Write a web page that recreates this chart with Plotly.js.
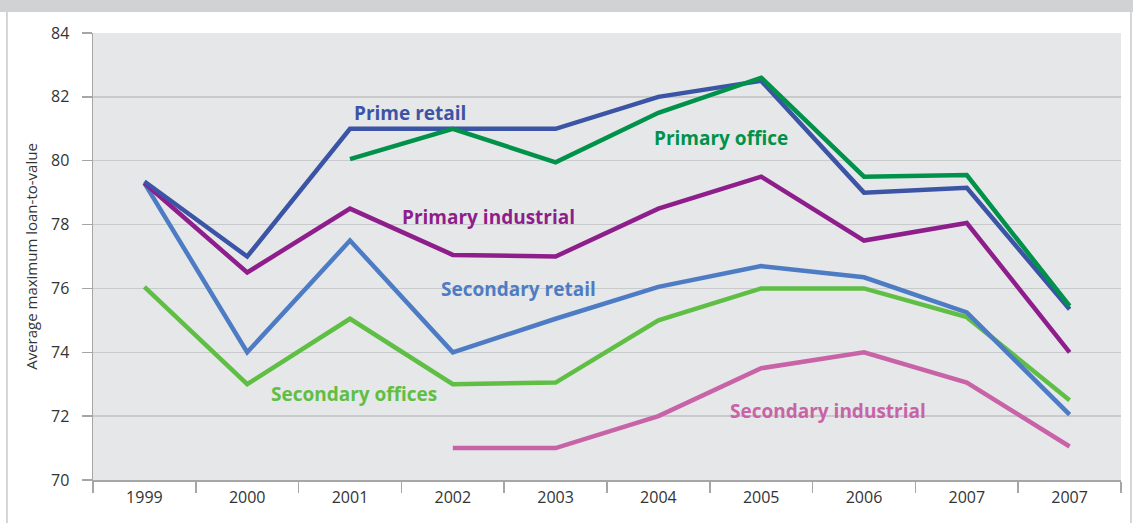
<!DOCTYPE html>
<html>
<head>
<meta charset="utf-8">
<script src="https://cdn.plot.ly/plotly-3.0.1.min.js"></script>
<style>html,body{margin:0;padding:0;background:#fff;}#chart{width:1133px;height:523px;}</style>
</head>
<body>
<div id="chart"></div>
<script>
const yearLabels = ["1999","2000","2001","2002","2003","2004","2005","2006","2007","2007"];
const primeRetail = [79.35, 77.0, 81.0, 81.0, 81.0, 82.0, 82.5, 79.0, 79.15, 75.35];
const primaryOffice = [null, null, 80.05, 81.0, 79.95, 81.5, 82.6, 79.5, 79.55, 75.45];
const primaryIndustrial = [79.3, 76.5, 78.5, 77.05, 77.0, 78.5, 79.5, 77.5, 78.05, 74.0];
const secondaryRetail = [79.3, 74.0, 77.5, 74.0, 75.05, 76.05, 76.7, 76.35, 75.25, 72.05];
const secondaryOffices = [76.05, 73.0, 75.05, 73.0, 73.05, 75.0, 76.0, 76.0, 75.1, 72.5];
const secondaryIndustrial = [null, null, null, 71.0, 71.0, 72.0, 73.5, 74.0, 73.05, 71.05];
const seriesNames = ["Prime retail","Primary office","Primary industrial","Secondary retail","Secondary offices","Secondary industrial"];

const xs = yearLabels.map((_, i) => i);
const colors = ["#3b54a5", "#00924a", "#8e1e8c", "#4d7cc4", "#5fbe44", "#c863a8"];
const data = [primeRetail, primaryOffice, primaryIndustrial, secondaryRetail, secondaryOffices, secondaryIndustrial];

const order = [5, 4, 3, 2, 0, 1];
const traces = order.map(k => ({
  x: xs, y: data[k], type: "scatter", mode: "lines", name: seriesNames[k],
  line: {color: colors[k], width: 4.5, shape: "linear"},
  connectgaps: false, hoverinfo: "skip", showlegend: false
}));

const labelPos = [
  [2.58, 81.5], [5.61, 80.7], [3.35, 78.25], [3.64, 75.99], [2.04, 72.68], [6.65, 72.15]
];
const annotations = seriesNames.map((n, k) => ({
  x: labelPos[k][0], y: labelPos[k][1], xref: "x", yref: "y",
  text: "<b>" + n + "</b>", showarrow: false,
  font: {family: "Open Sans, sans-serif", size: 19, color: colors[k]},
  xanchor: "center", yanchor: "middle"
}));

const layout = {
  width: 1133, height: 523,
  margin: {l: 93, r: 12, t: 33, b: 43, pad: 0},
  paper_bgcolor: "#ffffff",
  plot_bgcolor: "#e6e7e8",
  font: {family: "Open Sans, sans-serif", color: "#333"},
  xaxis: {
    range: [-0.5, 9.5], tickmode: "array", tickvals: xs, ticktext: yearLabels,
    ticks: "", showgrid: false, zeroline: false,
    showline: true, linecolor: "#a6a6a6", linewidth: 1.5,
    tickfont: {size: 16, color: "#333"},
    ticklabelstandoff: 2,
    minor: {tickmode: "linear", tick0: -0.5, dtick: 1, ticks: "outside", ticklen: 11, tickcolor: "#a6a6a6", tickwidth: 1.5, showgrid: false},
    fixedrange: true
  },
  yaxis: {
    range: [70, 84], tickmode: "linear", tick0: 70, dtick: 2,
    ticks: "outside", ticklen: 10, tickcolor: "#a6a6a6", tickwidth: 1.5,
    showgrid: true, gridcolor: "#c9cacc", gridwidth: 1.5,
    zeroline: false, showline: true, linecolor: "#a6a6a6", linewidth: 1.5,
    tickfont: {size: 16, color: "#333"},
    ticklabelstandoff: 9,
    title: {text: "Average maximum loan-to-value", font: {size: 15, color: "#333"}, standoff: 10},
    automargin: false, fixedrange: true
  },
  shapes: [
    {type: "rect", xref: "paper", yref: "paper", x0: -0.1, x1: 1.02, y0: 1.047, y1: 1.08, fillcolor: "#d1d2d4", line: {width: 0}, layer: "above"},
    {type: "line", xref: "paper", yref: "paper", x0: -0.0837, x1: -0.0837, y0: 1.047, y1: -0.1, line: {color: "#c8c8c8", width: 1.5}},
    {type: "line", xref: "paper", yref: "paper", x0: 1.0097, x1: 1.0097, y0: 1.047, y1: -0.1, line: {color: "#c8c8c8", width: 1.5}}
  ],
  annotations: annotations,
  showlegend: false
};

Plotly.newPlot("chart", traces, layout, {displayModeBar: false, staticPlot: true});
</script>
</body>
</html>
